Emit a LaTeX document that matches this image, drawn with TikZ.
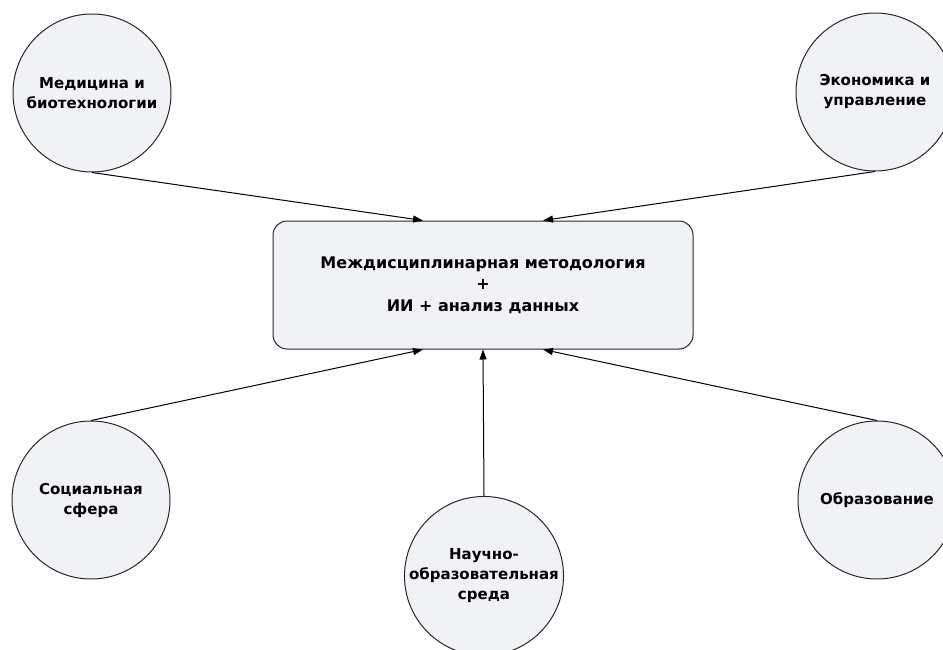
\documentclass[tikz,border=0pt]{standalone}
\usepackage{fontspec}
\setmainfont{DejaVu Sans}
\usepackage{tikz}
\usetikzlibrary{arrows.meta, positioning, calc}
\definecolor{HubFill}{RGB}{241, 242, 246}
\definecolor{HubLine}{RGB}{40, 40, 40}

\tikzset{
  field/.style={circle, draw=HubLine, fill=HubFill, line width=1pt,
    minimum size=158pt, inner sep=0pt, align=center,
    font=\fontsize{15}{20}\selectfont\bfseries},
  hubbox/.style={rectangle, rounded corners=14pt, draw=HubLine, fill=HubFill,
    line width=1pt, minimum width=420pt, minimum height=128pt, align=center,
    font=\fontsize{16}{21.5}\selectfont\bfseries},
  feed/.style={-{Triangle[length=10pt, width=7pt]}, line width=1pt, draw=black}
}

\begin{document}
\begin{tikzpicture}[x=1pt, y=-1pt]
  \useasboundingbox (0,0) rectangle (943,650);
  \clip (0,0) rectangle (943,650);

  % central hub
  \node[hubbox] (hub) at (483,285)
    {Междисциплинарная методология\\+\\ИИ + анализ данных};
  \coordinate (inL) at ($(hub.north)+(-60pt,0)$);
  \coordinate (inR) at ($(hub.north)+(60pt,0)$);
  \coordinate (outL) at ($(hub.south)+(-60pt,0)$);
  \coordinate (outR) at ($(hub.south)+(60pt,0)$);

  % application fields
  \node[field] (med) at (92,93) {Медицина и\\биотехнологии};
  \node[field] (econ) at (875,92) {Экономика и\\управление};
  \node[field] (soc) at (91,500) {Социальная\\сфера};
  \node[field] (sci) at (484,576) {Научно-\\образовательная\\среда};
  \node[field] (edu) at (877,500) {Образование};

  \draw[feed] (med.south) -- (inL);
  \draw[feed] (econ.south) -- (inR);
  \draw[feed] (soc.north) -- (outL);
  \draw[feed] (sci.north) -- (hub.south);
  \draw[feed] (edu.north) -- (outR);
\end{tikzpicture}
\end{document}
